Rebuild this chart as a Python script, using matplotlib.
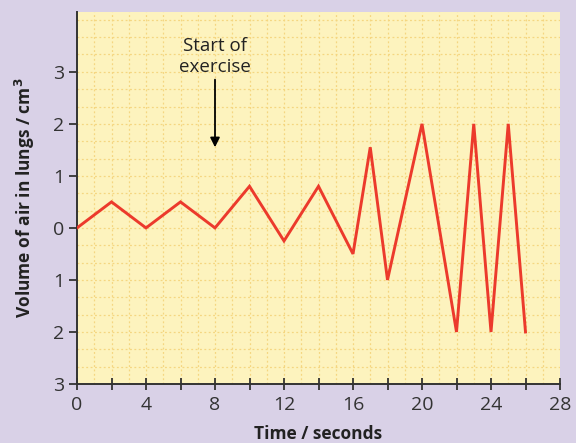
import matplotlib
matplotlib.use("Agg")
import matplotlib.pyplot as plt
import numpy as np
from matplotlib.ticker import MultipleLocator

plt.rcParams['font.family'] = ['Open Sans', 'DejaVu Sans']

time_s = [0, 2, 4, 6, 8, 10, 12, 14, 16, 17, 18, 20, 22, 23, 24, 25, 26]
volume = [0, 0.5, 0, 0.5, 0, 0.8, -0.25, 0.8, -0.5, 1.55, -1, 2, -2, 2, -2, 2, -2]
x_ticks = [0, 4, 8, 12, 16, 20, 24, 28]
y_ticks = [-3, -2, -1, 0, 1, 2, 3]
y_tick_labels = ["3", "2", "1", "0", "1", "2", "3"]

bg = "#d9d1e7"
fig = plt.figure(figsize=(5.76, 4.43), dpi=100, facecolor=bg)
ax = fig.add_axes([77 / 576, 1 - 384 / 443, (560 - 77) / 576, (384 - 12) / 443])
ax.set_facecolor("#fdf3be")

ax.set_xlim(0, 28)
ax.set_ylim(-3, 4.15)

# graph-paper grid
for gx in np.arange(1, 28, 1):
    ax.axvline(gx, color="#f5d680", lw=0.9, ls=(0, (1.5, 2)), zorder=1)
for gy in np.arange(-3 + 1 / 3, 4.15, 1 / 3):
    ax.axhline(gy, color="#f5d680", lw=0.9, ls=(0, (1.5, 2)), zorder=1)

ax.plot(time_s, volume, color="#ec3a2c", lw=2.1, zorder=3, solid_joinstyle="miter")

ax.annotate("", xy=(8, 1.55), xytext=(8, 2.85),
            arrowprops=dict(arrowstyle="-|>", color="black", lw=1.3,
                            mutation_scale=14, shrinkA=0, shrinkB=0), zorder=4)
ax.text(8, 3.3, "Start of\nexercise", ha="center", va="center", fontsize=13.5,
        color="#222222", linespacing=1.2, zorder=4)

for s in ["top", "right"]:
    ax.spines[s].set_visible(False)
for s in ["left", "bottom"]:
    ax.spines[s].set_color("#333333")
    ax.spines[s].set_linewidth(1.4)

ax.set_xticks(x_ticks)
ax.xaxis.set_minor_locator(MultipleLocator(2))
ax.tick_params(axis="x", which="both", direction="inout", length=9, width=1.3,
               colors="#333333", labelsize=14, pad=4)
ax.set_yticks(y_ticks)
ax.set_yticklabels(y_tick_labels)
ax.tick_params(axis="y", direction="out", length=6, width=1.3, colors="#333333",
               labelsize=14, pad=3)

ax.set_xlabel("Time / seconds", fontsize=12.5, fontweight="bold", color="#222222", labelpad=8)
ax.set_ylabel("Volume of air in lungs / cm$^\\mathbf{3}$", fontsize=12.5, fontweight="bold",
              color="#222222", labelpad=12)

fig.savefig("out.png", dpi=100, facecolor=bg)
